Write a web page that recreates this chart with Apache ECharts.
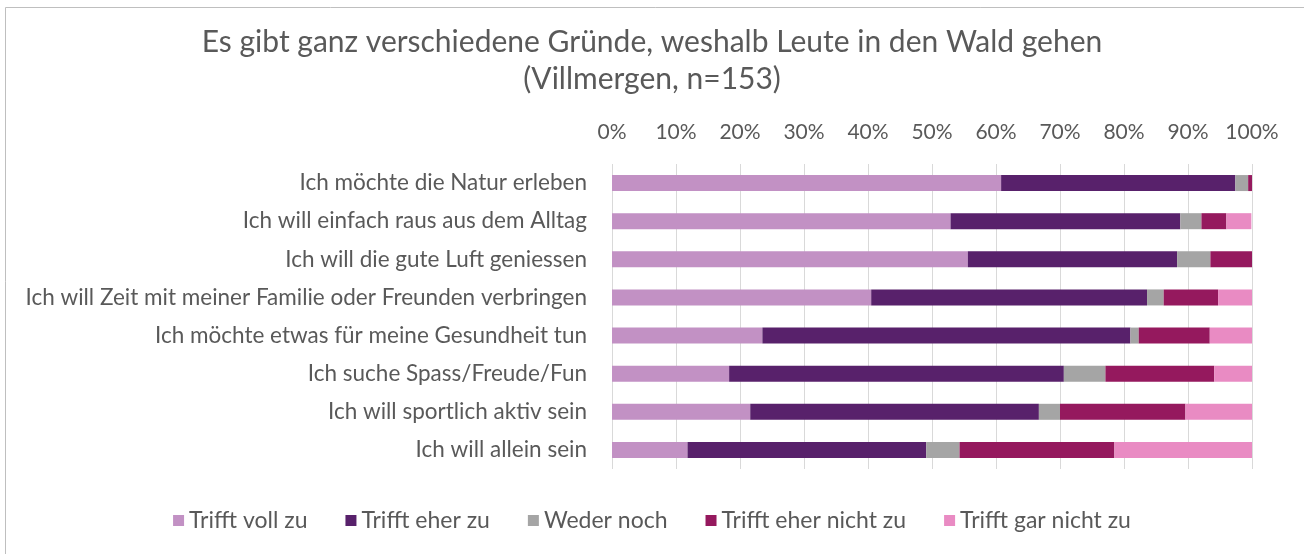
<!DOCTYPE html>
<html>
<head>
<meta charset="utf-8">
<script src="https://cdn.jsdelivr.net/npm/echarts@6/dist/echarts.min.js"></script>
<style>
  html, body { margin: 0; padding: 0; background: #fff; }
  #chart { width: 1304px; height: 554px; }
</style>
</head>
<body>
<div id="chart"></div>
<script>
// Survey items (top to bottom)
const categories = [
  'Ich möchte die Natur erleben',
  'Ich will einfach raus aus dem Alltag',
  'Ich will die gute Luft geniessen',
  'Ich will Zeit mit meiner Familie oder Freunden verbringen',
  'Ich möchte etwas für meine Gesundheit tun',
  'Ich suche Spass/Freude/Fun',
  'Ich will sportlich aktiv sein',
  'Ich will allein sein'
];

// Answer shares in percent, one array per answer option
const trifftVollZu      = [60.8, 52.9, 55.6, 40.5, 23.5, 18.3, 21.6, 11.8];
const trifftEherZu      = [36.6, 35.9, 32.7, 43.1, 57.5, 52.3, 45.1, 37.3];
const wederNoch         = [2.0, 3.3, 5.2, 2.6, 1.3, 6.5, 3.3, 5.2];
const trifftEherNichtZu = [0.6, 3.9, 6.5, 8.5, 11.1, 17.0, 19.6, 24.2];
const trifftGarNichtZu  = [0.0, 3.9, 0.0, 5.3, 6.6, 5.9, 10.4, 21.5];

const seriesNames = ['Trifft voll zu', 'Trifft eher zu', 'Weder noch', 'Trifft eher nicht zu', 'Trifft gar nicht zu'];
const seriesData = [trifftVollZu, trifftEherZu, wederNoch, trifftEherNichtZu, trifftGarNichtZu];
const colors = ['#C291C4', '#58216B', '#A5A5A5', '#95195E', '#E98BC3'];

const FONT = 'Lato, "Noto Sans", sans-serif';
const TEXT = '#595959';

const chart = echarts.init(document.getElementById('chart'), null, { renderer: 'canvas' });

chart.setOption({
  animation: false,
  backgroundColor: '#fff',
  color: colors,
  title: {
    text: 'Es gibt ganz verschiedene Gründe, weshalb Leute in den Wald gehen\n(Villmergen, n=153)',
    left: 'center',
    top: 19,
    textStyle: {
      fontFamily: FONT,
      fontSize: 30,
      fontWeight: 'normal',
      color: TEXT,
      lineHeight: 37
    }
  },
  legend: {
    bottom: 17,
    left: 'center',
    itemWidth: 11,
    itemHeight: 11,
    itemGap: 38,
    icon: 'rect',
    textStyle: { fontFamily: FONT, fontSize: 23, color: TEXT },
    data: seriesNames
  },
  grid: { left: 612, right: 52, top: 164, bottom: 85 },
  xAxis: {
    type: 'value',
    position: 'top',
    min: 0,
    max: 100,
    interval: 10,
    axisLine: { show: false },
    axisTick: { show: false },
    axisLabel: {
      formatter: '{value}%',
      fontFamily: FONT,
      fontSize: 21,
      color: TEXT,
      margin: 21
    },
    splitLine: { show: true, lineStyle: { color: '#D9D9D9', width: 1 } }
  },
  yAxis: {
    type: 'category',
    inverse: true,
    data: categories,
    axisLine: { show: false },
    axisTick: { show: false },
    axisLabel: { fontFamily: FONT, fontSize: 22.5, color: TEXT, margin: 25 }
  },
  graphic: [{
    type: 'rect',
    shape: { x: 5.5, y: 7.5, width: 1320, height: 580 },
    style: { fill: 'none', stroke: '#BFBFBF', lineWidth: 1 },
    silent: true
  }],
  series: seriesNames.map((name, i) => ({
    name,
    type: 'bar',
    stack: 'total',
    barWidth: 16,
    data: seriesData[i]
  }))
});
</script>
</body>
</html>
